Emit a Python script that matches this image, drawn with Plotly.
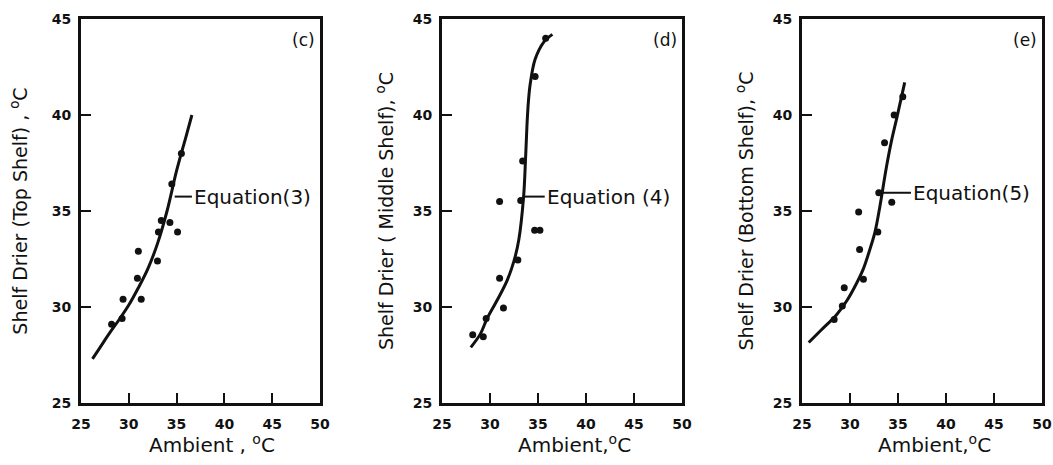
import plotly.graph_objects as go

# ---- panel (c): top shelf ----
c_obs_x = [28.2, 29.3, 29.4, 30.9, 31.0, 31.3, 33.0, 33.1, 33.4, 34.3, 35.1, 34.5, 35.5]
c_obs_y = [29.1, 29.4, 30.4, 31.5, 32.9, 30.4, 32.4, 33.9, 34.5, 34.4, 33.9, 36.4, 38.0]
c_fit_x = [26.2, 27.0, 28.0, 29.0, 30.0, 31.0, 32.0, 33.0, 34.0, 35.0, 36.0, 36.6]
c_fit_y = [27.3, 27.9, 28.65, 29.35, 30.1, 31.0, 32.0, 33.3, 35.0, 37.1, 38.9, 40.0]

# ---- panel (d): middle shelf ----
d_obs_x = [28.2, 29.3, 29.6, 31.0, 31.0, 31.4, 32.9, 33.2, 33.4, 34.65, 35.2, 34.7, 35.8]
d_obs_y = [28.55, 28.45, 29.4, 35.5, 31.5, 29.95, 32.45, 35.55, 37.6, 34.0, 34.0, 42.0, 44.0]
d_fit_x = [28.0, 29.0, 29.7, 30.8, 31.8, 32.5, 33.0, 33.5, 33.7, 33.85, 34.0, 34.2, 34.7, 35.6, 36.5]
d_fit_y = [27.9, 28.6, 29.4, 30.4, 31.4, 32.4, 33.5, 35.75, 37.7, 39.45, 40.7, 41.65, 42.9, 43.8, 44.2]

# ---- panel (e): bottom shelf ----
e_obs_x = [28.35, 29.2, 29.4, 30.9, 31.0, 31.4, 32.9, 33.0, 33.6, 34.35, 34.6, 35.5]
e_obs_y = [29.35, 30.05, 31.0, 34.95, 33.0, 31.45, 33.9, 35.95, 38.55, 35.45, 40.0, 40.95]
e_fit_x = [25.7, 27.0, 28.6, 29.7, 30.7, 31.4, 32.1, 32.6, 33.1, 33.8, 34.3, 34.9, 35.7]
e_fit_y = [28.15, 28.8, 29.6, 30.35, 31.25, 32.0, 33.05, 33.9, 35.2, 37.3, 38.6, 39.9, 41.7]

panel_tags = ["(c)", "(d)", "(e)"]
eq_labels = ["Equation(3)", "Equation (4)", "Equation(5)"]
eq_y = [35.75, 35.75, 35.95]
eq_lead_x0 = [34.8, 33.6, 33.3]
eq_lead_x1 = [36.6, 35.7, 36.35]

y_titles = [
    "Shelf Drier (Top Shelf) , <sup>o</sup>C",
    "Shelf Drier ( Middle Shelf), <sup>o</sup>C",
    "Shelf Drier (Bottom Shelf), <sup>o</sup>C",
]
x_titles = ["Ambient , <sup>o</sup>C", "Ambient,<sup>o</sup>C", "Ambient,<sup>o</sup>C"]

x_ticks = [25, 30, 35, 40, 45, 50]
y_ticks = [25, 30, 35, 40, 45]

W, H = 1053, 465
x_domains = [(81 / W, 320 / W), (442 / W, 682 / W), (802 / W, 1042 / W)]
y_domain = (1 - 403 / H, 1 - 19 / H)
y_title_standoff = [20, 15, 15]

FONT = "DejaVu Sans"
INK = "#111111"

fig = go.Figure()
panels = [
    (c_obs_x, c_obs_y, c_fit_x, c_fit_y),
    (d_obs_x, d_obs_y, d_fit_x, d_fit_y),
    (e_obs_x, e_obs_y, e_fit_x, e_fit_y),
]

layout = dict(
    width=W, height=H,
    margin=dict(l=0, r=0, t=0, b=0),
    paper_bgcolor="white", plot_bgcolor="white",
    showlegend=False,
    font=dict(family=FONT, color=INK),
)
annotations = []
shapes = []

for i, (ox, oy, fx, fy) in enumerate(panels):
    suffix = "" if i == 0 else str(i + 1)
    xa, ya = "x" + suffix, "y" + suffix

    fig.add_trace(go.Scatter(
        x=fx, y=fy, mode="lines", line=dict(color=INK, width=3, shape="spline", smoothing=1.0),
        xaxis=xa, yaxis=ya, hoverinfo="skip"))
    fig.add_trace(go.Scatter(
        x=ox, y=oy, mode="markers", marker=dict(color=INK, size=7),
        xaxis=xa, yaxis=ya))

    axis_common = dict(
        showgrid=False, zeroline=False, automargin=False,
        showline=True, linecolor=INK, linewidth=3, mirror=True,
        ticks="inside", ticklen=10, tickwidth=2, tickcolor=INK,
        tickfont=dict(family=FONT, size=14, color=INK, weight="bold"),
    )
    layout["xaxis" + suffix] = dict(
        axis_common, domain=list(x_domains[i]), range=[25, 50],
        tickvals=x_ticks, ticktext=[str(v) for v in x_ticks],
        anchor=ya, ticklabelstandoff=6,
    )
    layout["yaxis" + suffix] = dict(
        axis_common, domain=list(y_domain), range=[25, 45],
        tickvals=y_ticks, ticktext=[str(v) for v in y_ticks],
        anchor=xa, ticklabelstandoff=4,
        title=dict(text=y_titles[i], font=dict(family=FONT, size=19, color=INK),
                   standoff=y_title_standoff[i]),
    )

    # x-axis title, set slightly right of the axis centre
    annotations.append(dict(
        x=0.55, y=1 - 444 / H, xref=xa + " domain", yref="paper", text=x_titles[i],
        showarrow=False, xanchor="center", yanchor="middle",
        font=dict(family=FONT, size=20, color=INK)))

    # panel tag in the upper-right corner
    annotations.append(dict(
        x=49.7, y=43.9, xref=xa, yref=ya, text=panel_tags[i], showarrow=False,
        xanchor="right", yanchor="middle", font=dict(family=FONT, size=17, color=INK)))

    # equation label with its leader line to the fitted curve
    shapes.append(dict(
        type="line", xref=xa, yref=ya, x0=eq_lead_x0[i], x1=eq_lead_x1[i],
        y0=eq_y[i], y1=eq_y[i], line=dict(color=INK, width=2)))
    annotations.append(dict(
        x=eq_lead_x1[i], y=eq_y[i], xref=xa, yref=ya, text=eq_labels[i], showarrow=False,
        xanchor="left", yanchor="middle", xshift=0, font=dict(family=FONT, size=20, color=INK)))

layout["annotations"] = annotations
layout["shapes"] = shapes
fig.update_layout(**layout)

fig.write_html("out.html")
